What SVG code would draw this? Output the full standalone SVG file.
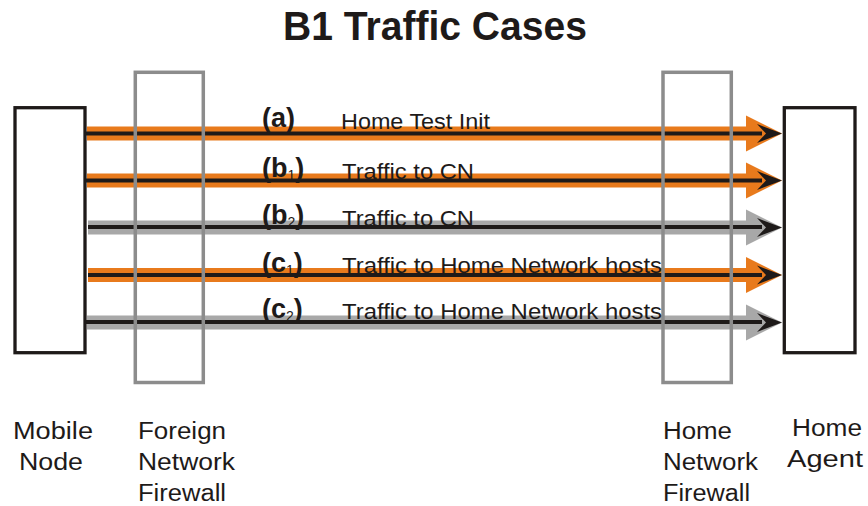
<svg xmlns="http://www.w3.org/2000/svg" width="868" height="506" viewBox="0 0 868 506">
<style>
.box{fill:#fff;stroke:#1e1a19;stroke-width:3.3}
.fw{fill:none;stroke:#8c8c8c;stroke-width:3.5}
.lbl{font-family:"Liberation Sans",Arial,sans-serif;font-size:23px;fill:#1e1a19}
.tag{font-family:"Liberation Sans",Arial,sans-serif;font-size:27px;font-weight:bold;fill:#1e1a19}
.sub{font-family:"Liberation Sans",Arial,sans-serif;font-size:14px;font-weight:normal;fill:#1e1a19}
.msg{font-family:"Liberation Sans",Arial,sans-serif;font-size:22px;fill:#1e1a19}
.title{font-family:"Liberation Sans",Arial,sans-serif;font-size:40px;font-weight:bold;fill:#1e1a19}
.or{fill:#e87a1c}
.gr{fill:#a8a8a8}
.bk{fill:#1e1a19}
</style>
<defs>
<path id="bandhead" d="M746,-18 L782,0 L746,18 Z"/>
<path id="blackhead" d="M782,0 L757,-9.5 L766,0 L757,9.5 Z"/>
</defs>

<text class="title" x="283" y="40" textLength="304" lengthAdjust="spacingAndGlyphs">B1 Traffic Cases</text>

<g id="mobile-node">
<rect class="box" x="15" y="107.7" width="70" height="245"/>
<text class="lbl" x="13" y="439" textLength="80" lengthAdjust="spacingAndGlyphs">Mobile</text>
<text class="lbl" x="19" y="470" textLength="64" lengthAdjust="spacingAndGlyphs">Node</text>
</g>

<g id="home-agent">
<rect class="box" x="784.3" y="107.7" width="70.7" height="245"/>
<text class="lbl" x="792" y="436" textLength="70" lengthAdjust="spacingAndGlyphs">Home</text>
<text class="lbl" x="787" y="467" textLength="76" lengthAdjust="spacingAndGlyphs">Agent</text>
</g>

<g id="connectors">
<g id="conn-a" transform="translate(0,133.5)">
<rect class="or" x="87" y="-7" width="660" height="14"/>
<use href="#bandhead" class="or"/>
<rect class="bk" x="86" y="-2" width="676" height="4"/>
<use href="#blackhead" class="bk"/>
</g>
<g id="conn-b1" transform="translate(0,180.5)">
<rect class="or" x="87" y="-7" width="660" height="14"/>
<use href="#bandhead" class="or"/>
<rect class="bk" x="86" y="-2" width="676" height="4"/>
<use href="#blackhead" class="bk"/>
</g>
<g id="conn-b2" transform="translate(0,227.5)">
<rect class="gr" x="88" y="-7" width="659" height="14"/>
<use href="#bandhead" class="gr"/>
<rect class="bk" x="88" y="-2.5" width="674" height="4"/>
<use href="#blackhead" class="bk"/>
</g>
<g id="conn-c1" transform="translate(0,275)">
<rect class="or" x="88" y="-7" width="659" height="14"/>
<use href="#bandhead" class="or"/>
<rect class="bk" x="88" y="-2" width="674" height="4"/>
<use href="#blackhead" class="bk"/>
</g>
<g id="conn-c2" transform="translate(0,322.5)">
<rect class="gr" x="87" y="-7" width="660" height="14"/>
<use href="#bandhead" class="gr"/>
<rect class="bk" x="86" y="-2.5" width="676" height="4"/>
<use href="#blackhead" class="bk"/>
</g>
</g>

<g id="foreign-firewall">
<rect class="fw" x="135.3" y="72.3" width="68" height="310.2"/>
<text class="lbl" x="138" y="439" textLength="88" lengthAdjust="spacingAndGlyphs">Foreign</text>
<text class="lbl" x="138" y="470" textLength="97" lengthAdjust="spacingAndGlyphs">Network</text>
<text class="lbl" x="138" y="501" textLength="88" lengthAdjust="spacingAndGlyphs">Firewall</text>
</g>

<g id="home-firewall">
<rect class="fw" x="663" y="72.3" width="68.3" height="310.2"/>
<text class="lbl" x="663" y="439" textLength="69" lengthAdjust="spacingAndGlyphs">Home</text>
<text class="lbl" x="663" y="470" textLength="95" lengthAdjust="spacingAndGlyphs">Network</text>
<text class="lbl" x="663" y="501" textLength="87" lengthAdjust="spacingAndGlyphs">Firewall</text>
</g>

<g id="labels">
<text class="tag" x="262" y="127">(a)</text>
<text class="msg" x="341" y="128.5" textLength="149" lengthAdjust="spacingAndGlyphs">Home Test Init</text>
<text class="tag" x="262" y="177">(b<tspan class="sub" dy="3">1</tspan><tspan dy="-3">)</tspan></text>
<text class="msg" x="342" y="179" textLength="132" lengthAdjust="spacingAndGlyphs">Traffic to CN</text>
<text class="tag" x="262" y="224">(b<tspan class="sub" dy="3">2</tspan><tspan dy="-3">)</tspan></text>
<text class="msg" x="342" y="226" textLength="132" lengthAdjust="spacingAndGlyphs">Traffic to CN</text>
<text class="tag" x="262" y="272">(c<tspan class="sub" dy="3">1</tspan><tspan dy="-3">)</tspan></text>
<text class="msg" x="342" y="273" textLength="320" lengthAdjust="spacingAndGlyphs">Traffic to Home Network hosts</text>
<text class="tag" x="262" y="318">(c<tspan class="sub" dy="3">2</tspan><tspan dy="-3">)</tspan></text>
<text class="msg" x="342" y="319" textLength="320" lengthAdjust="spacingAndGlyphs">Traffic to Home Network hosts</text>
</g>
</svg>
